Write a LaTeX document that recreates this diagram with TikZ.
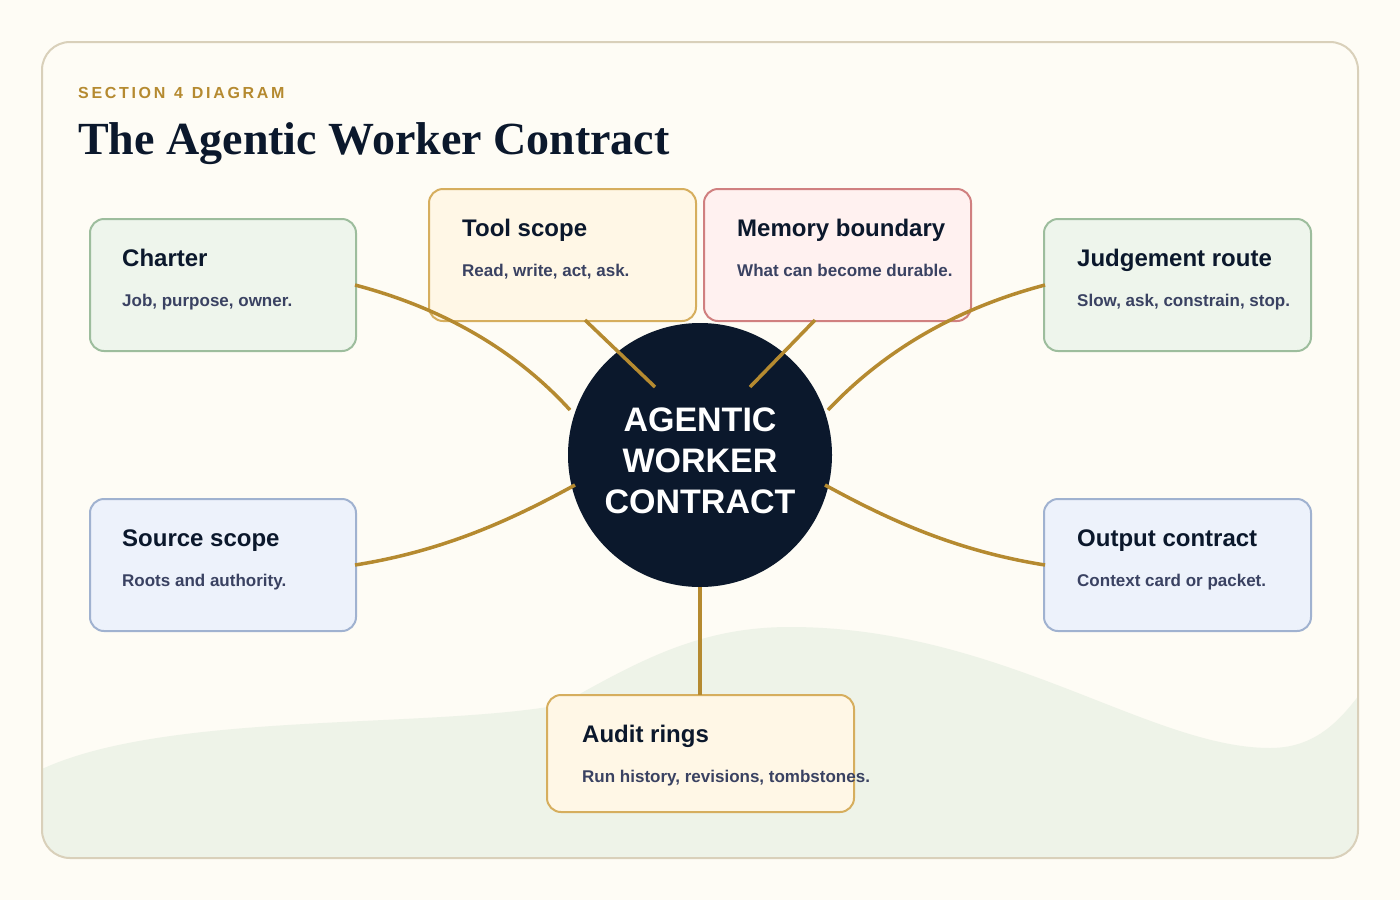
\documentclass[tikz,border=0pt]{standalone}
\usepackage{fontspec}
\setmainfont{Liberation Sans}
\newfontfamily\serifb{Liberation Serif}
\begin{document}
\definecolor{bg}{HTML}{FEFCF5}
\definecolor{frame}{HTML}{D9D0BA}
\definecolor{wave}{HTML}{EEF3E8}
\definecolor{gold}{HTML}{B58A30}
\definecolor{navy}{HTML}{0B182C}
\definecolor{sub}{HTML}{3A4262}
\definecolor{gf}{HTML}{EEF5EC}\definecolor{gs}{HTML}{9DBD9D}
\definecolor{yf}{HTML}{FFF7E6}\definecolor{ys}{HTML}{D6AE5E}
\definecolor{pf}{HTML}{FFF1F0}\definecolor{ps}{HTML}{D08080}
\definecolor{bf}{HTML}{EDF2FB}\definecolor{bs}{HTML}{A0B2D0}
\begin{tikzpicture}[x=1pt,y=-1pt,
  box/.style={draw=#1s,fill=#1f,line width=2pt,rounded corners=14pt},
  ttl/.style={anchor=base west,font=\bfseries\fontsize{24}{28}\selectfont,text=navy,inner sep=0},
  sb/.style={anchor=base west,font=\bfseries\fontsize{17}{20}\selectfont,text=sub,inner sep=0},
  link/.style={draw=gold,line width=3.5pt}]
\fill[bg] (0,0) rectangle (1400,900);
\useasboundingbox (0,0) rectangle (1400,900);
\begin{scope}
\clip[rounded corners=28pt] (42,42) rectangle (1358,858);
\fill[wave] (30,775) .. controls (150,710) and (420,730) .. (560,705)
  .. controls (640,660) and (700,627) .. (790,627)
  .. controls (1000,627) and (1150,748) .. (1270,748)
  .. controls (1320,748) and (1345,715) .. (1370,680) -- (1370,870) -- (30,870) -- cycle;
\end{scope}
\draw[frame,line width=2pt,rounded corners=28pt] (42,42) rectangle (1358,858);
\node[anchor=base west,inner sep=0,text=gold,font=\bfseries\fontsize{16}{18}\selectfont] (sec) at (78,98) {S\,E\,C\,T\,I\,O\,N\ \ 4\ \ D\,I\,A\,G\,R\,A\,M};
\node[anchor=base west,inner sep=0,text=navy,font=\serifb\bfseries\fontsize{46}{50}\selectfont] (title) at (78,154) {The Agentic Worker Contract};

\node[circle,fill=navy,minimum size=264pt,inner sep=0] (c) at (700,455) {};
\node[text=white,font=\bfseries\fontsize{34}{41}\selectfont,align=center] (ct) at (700,461) {AGENTIC\\WORKER\\CONTRACT};

\draw[box=g] (90,219) rectangle (356,351);
\node[ttl] (t1) at (122,266) {Charter}; \node[sb] (s1) at (122,306) {Job, purpose, owner.};
\draw[box=y] (429,189) rectangle (696,321);
\node[ttl] (t2) at (462,236) {Tool scope}; \node[sb] (s2) at (462,276) {Read, write, act, ask.};
\draw[box=p] (704,189) rectangle (971,321);
\node[ttl] (t3) at (737,236) {Memory boundary}; \node[sb] (s3) at (737,276) {What can become durable.};
\draw[box=g] (1044,219) rectangle (1311,351);
\node[ttl] (t4) at (1077,266) {Judgement route}; \node[sb] (s4) at (1077,306) {Slow, ask, constrain, stop.};
\draw[box=b] (90,499) rectangle (356,631);
\node[ttl] (t5) at (122,546) {Source scope}; \node[sb] (s5) at (122,586) {Roots and authority.};
\draw[box=b] (1044,499) rectangle (1311,631);
\node[ttl] (t6) at (1077,546) {Output contract}; \node[sb] (s6) at (1077,586) {Context card or packet.};
\draw[box=y] (547,695) rectangle (854,812);
\node[ttl] (t7) at (582,742) {Audit rings}; \node[sb] (s7) at (582,782) {Run history, revisions, tombstones.};

\coordinate (a1) at (355,285); \coordinate (b1) at (570,410);
\coordinate (a2) at (585,320); \coordinate (b2) at (655,387);
\coordinate (a3) at (815,320); \coordinate (b3) at (750,387);
\coordinate (a4) at (1045,285); \coordinate (b4) at (828,410);
\coordinate (a5) at (355,565); \coordinate (b5) at (575,485);
\coordinate (a6) at (1045,565); \coordinate (b6) at (825,485);
\coordinate (a7) at (700,587); \coordinate (b7) at (700,695);
\draw[link] (a1) .. controls (450,310) and (520,355) .. (b1);
\draw[link] (a2) -- (b2);
\draw[link] (a3) -- (b3);
\draw[link] (a4) .. controls (950,310) and (880,355) .. (b4);
\draw[link] (a5) .. controls (450,550) and (520,515) .. (b5);
\draw[link] (a6) .. controls (950,550) and (880,515) .. (b6);
\draw[link] (a7) -- (b7);
\end{tikzpicture}
\end{document}
